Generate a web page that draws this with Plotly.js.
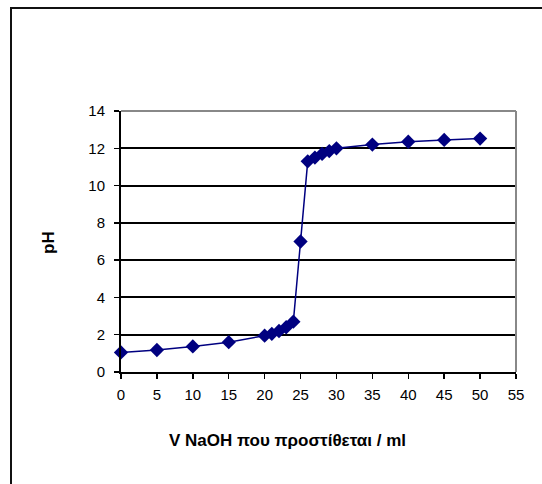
<!DOCTYPE html>
<html><head><meta charset="utf-8">
<script src="https://cdn.plot.ly/plotly-3.0.1.min.js"></script>
<style>
html,body{margin:0;padding:0;background:#fff;}
#frame{position:absolute;left:10px;top:7px;width:600px;height:600px;border:2px solid #111;box-sizing:border-box;}
#chart{position:absolute;left:0;top:0;width:542px;height:484px;}
</style></head>
<body>
<div id="frame"></div>
<div id="chart"></div>
<script>
const volume = [0, 5, 10, 15, 20, 21, 22, 23, 24, 25, 26, 27, 28, 29, 30, 35, 40, 45, 50];
const pH = [1.05, 1.18, 1.37, 1.6, 1.95, 2.05, 2.2, 2.4, 2.7, 7.0, 11.3, 11.5, 11.7, 11.85, 12.0, 12.2, 12.35, 12.45, 12.52];
const xTicks = [0, 5, 10, 15, 20, 25, 30, 35, 40, 45, 50, 55];
const yTicks = [0, 2, 4, 6, 8, 10, 12, 14];
const xTitle = 'V NaOH που προστίθεται / ml';
const yTitle = 'pH';

const trace = {
  x: volume, y: pH, type: 'scatter', mode: 'lines+markers',
  line: {color: '#000080', width: 1.5},
  marker: {symbol: 'diamond', size: 11, color: '#000080'},
  cliponaxis: false
};
const fam = 'Liberation Sans, Arial, sans-serif';
const font = {family: fam, size: 15, color: '#000'};
const titleFont = {family: fam, size: 17, color: '#000'};
const layout = {
  width: 542, height: 484,
  margin: {l: 121, r: 26, t: 111, b: 112},
  paper_bgcolor: 'rgba(0,0,0,0)', plot_bgcolor: 'rgba(0,0,0,0)',
  showlegend: false, font: font,
  xaxis: {
    range: [0, 55], tickvals: xTicks, ticktext: xTicks.map(String),
    showgrid: false, zeroline: false, showline: true, linecolor: '#000', linewidth: 2,
    ticks: 'outside', ticklen: 5, tickwidth: 1.5, tickcolor: '#000',
    tickfont: font, ticklabelstandoff: 3
  },
  yaxis: {
    range: [0, 14], tickvals: yTicks, ticktext: yTicks.map(String),
    showgrid: true, gridcolor: '#000', gridwidth: 2,
    zeroline: false, showline: true, linecolor: '#000', linewidth: 2,
    ticks: 'outside', ticklen: 5, tickwidth: 1.5, tickcolor: '#000',
    tickfont: font, ticklabelstandoff: 6
  },
  annotations: [
    {text: '<b>' + xTitle + '</b>', xref: 'paper', yref: 'paper',
     x: (287 - 121) / 395, y: (372 - 440) / 261, xanchor: 'center', yanchor: 'middle',
     showarrow: false, font: titleFont},
    {text: '<b>' + yTitle + '</b>', xref: 'paper', yref: 'paper', textangle: -90,
     x: (48 - 121) / 395, y: (372 - 243) / 261, xanchor: 'center', yanchor: 'middle',
     showarrow: false, font: titleFont}
  ],
  shapes: [
    {type: 'line', xref: 'paper', yref: 'paper', x0: 0, x1: 1, y0: 1, y1: 1, line: {color: '#888', width: 2}},
    {type: 'line', xref: 'paper', yref: 'paper', x0: 1, x1: 1, y0: 0, y1: 1, line: {color: '#888', width: 2}}
  ]
};
Plotly.newPlot('chart', [trace], layout, {displayModeBar: false, staticPlot: true});
</script>
</body></html>
